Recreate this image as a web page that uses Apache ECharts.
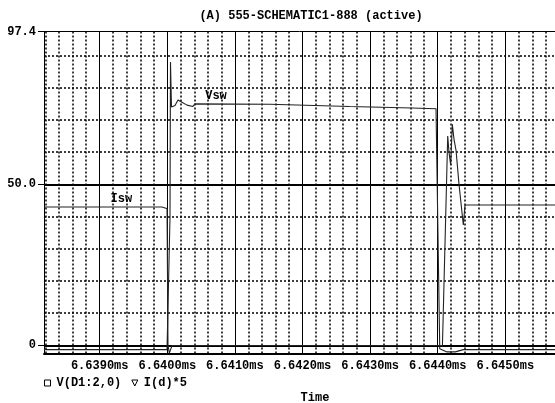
<!DOCTYPE html>
<html><head><meta charset="utf-8">
<script src="https://cdn.jsdelivr.net/npm/echarts@6/dist/echarts.min.js"></script>
<style>html,body{margin:0;padding:0;background:#fff}#c{width:555px;height:403px}</style>
</head><body><div id="c"></div>
<script>
// Axis definitions
var xMajorTicks = [6.6390, 6.6400, 6.6410, 6.6420, 6.6430, 6.6440, 6.6450];
var yLabelTicks = [0, 50, 97.4];
var yMajorGrid = [0, 50];
var yMinorGrid = [10, 20, 30, 40, 60, 70, 80, 90];
var XMIN = 6.638176, XMAX = 6.645735, YMIN = -2.5, YMAX = 97.4;

// Trace V(D1:2,0)  [time ms, value]
var vswTime = [6.638176, 6.639996, 6.640025, 6.640040, 6.640047, 6.640062, 6.640080, 6.640114, 6.640158, 6.640217, 6.640291, 6.640379, 6.640408, 6.641518, 6.642700, 6.643620, 6.643975, 6.643997, 6.644030, 6.644137, 6.644260, 6.644378, 6.645735];
var vswValue = [-1.3, -1.3, -1.0, 40, 88.0, 74.0, 74.0, 74.5, 76.2, 75.5, 74.6, 74.2, 75.0, 74.9, 74.2, 73.7, 73.5, 73.0, -1.0, -2.0, -2.0, -1.3, -1.3];

// Trace I(d)*5  [time ms, value]
var idTime = [6.638176, 6.639920, 6.639966, 6.639996, 6.640010, 6.640030, 6.640070, 6.643997, 6.644070, 6.644085, 6.644148, 6.644167, 6.644192, 6.644216, 6.644241, 6.644271, 6.644315, 6.644379, 6.644404, 6.645735];
var idValue = [43.0, 43.0, 42.7, 42.5, 0, -2.4, 0, 0, 0, 0, 65.0, 60.0, 56.0, 68.7, 64.0, 60.6, 50.0, 37.4, 43.6, 43.6];

var seriesNames = ['V(D1:2,0)', 'I(d)*5'];
var traceLabels = [{text: 'Vsw', t: 6.640720, v: 77.3}, {text: 'Isw', t: 6.639320, v: 45.5}];

function zip(a, b) { return a.map(function (x, i) { return [x, b[i]]; }); }

// minor x grid: every 0.0002 ms between the majors
var xMinorGrid = [];
for (var k = Math.ceil(XMIN / 0.0002); k * 0.0002 <= XMAX; k++) {
  var v = +(k * 0.0002).toFixed(5);
  if (Math.abs(v * 1000 - Math.round(v * 1000)) > 1e-6) xMinorGrid.push(v);
}

var FONT = 'Liberation Mono';
var FS = 12;
var gridLines = [];
xMajorTicks.forEach(function (v) { gridLines.push({xAxis: v, lineStyle: {type: 'solid', width: 1, color: '#000'}}); });
xMinorGrid.forEach(function (v) { gridLines.push({xAxis: v, lineStyle: {type: [2, 2], width: 1.5, color: '#000'}}); });
yMajorGrid.forEach(function (v) { gridLines.push({yAxis: v, lineStyle: {type: 'solid', width: 2, color: '#000'}}); });
yMinorGrid.forEach(function (v) { gridLines.push({yAxis: v, lineStyle: {type: [2, 2], width: 1.5, color: '#000'}}); });

var chart = echarts.init(document.getElementById('c'), null, {renderer: 'canvas'});
chart.setOption({
  animation: false,
  backgroundColor: '#fff',
  title: [
    {text: '(A) 555-SCHEMATIC1-888 (active)', left: 306, top: 5, textAlign: 'center',
     textStyle: {fontFamily: FONT, fontSize: FS, fontWeight: 'bold', color: '#000'}},
    {text: 'Time', left: 310, top: 387, textAlign: 'center',
     textStyle: {fontFamily: FONT, fontSize: FS, fontWeight: 'bold', color: '#000'}}
  ],
  legend: {
    left: 39, top: 372, itemWidth: 6, itemHeight: 6, itemGap: 10,
    textStyle: {fontFamily: FONT, fontSize: FS, fontWeight: 'bold', color: '#000', padding: [0, 0, 0, 1]},
    data: [
      {name: seriesNames[0], icon: 'rect', itemStyle: {color: '#fff', borderColor: '#000', borderWidth: 1}},
      {name: seriesNames[1], icon: 'path://M0,0 L10,0 L5,10 Z', itemStyle: {color: '#fff', borderColor: '#000', borderWidth: 1}}
    ]
  },
  grid: {left: 44, right: 0, top: 31.7, bottom: 49.5, show: false},
  xAxis: [{
    type: 'value', min: XMIN, max: XMAX,
    axisLine: {show: true, onZero: false, lineStyle: {color: '#000', width: 2}},
    axisTick: {show: false},
    splitLine: {show: false},
    axisLabel: {customValues: xMajorTicks, margin: 6, fontFamily: FONT, fontSize: FS, fontWeight: 'bold', color: '#000',
      formatter: function (v) { return v.toFixed(4) + 'ms'; }}
  }, {
    type: 'value', min: XMIN, max: XMAX, position: 'top',
    axisLine: {show: true, onZero: false, lineStyle: {color: '#000', width: 1}},
    axisTick: {show: false}, splitLine: {show: false}, axisLabel: {show: false}
  }],
  yAxis: {
    type: 'value', min: YMIN, max: YMAX,
    axisLine: {show: true, lineStyle: {color: '#000', width: 1}},
    axisTick: {show: true, customValues: yLabelTicks, length: 6, lineStyle: {color: '#000'}},
    splitLine: {show: false},
    axisLabel: {customValues: yLabelTicks, margin: 8, fontFamily: FONT, fontSize: FS, fontWeight: 'bold', color: '#000',
      formatter: function (v) { return v === 0 ? '0' : v.toFixed(1); }}
  },
  series: [
    {type: 'line', name: '_grid', data: [], silent: true, z: 1,
     markLine: {silent: true, precision: 6, symbol: ['none', 'none'], label: {show: false}, animation: false, data: gridLines}},
    {type: 'line', name: seriesNames[0], data: zip(vswTime, vswValue), showSymbol: false, z: 5,
     lineStyle: {color: '#222', width: 1.1}, itemStyle: {color: '#222'},
     markPoint: {symbol: 'circle', symbolSize: 0, silent: true,
       label: {show: true, position: 'inside', fontFamily: FONT, fontSize: FS, fontWeight: 'bold', color: '#000', formatter: '{b}'},
       data: [{name: traceLabels[0].text, coord: [traceLabels[0].t, traceLabels[0].v]}]}},
    {type: 'line', name: seriesNames[1], data: zip(idTime, idValue), showSymbol: false, z: 5,
     lineStyle: {color: '#222', width: 1.1}, itemStyle: {color: '#222'},
     markPoint: {symbol: 'circle', symbolSize: 0, silent: true,
       label: {show: true, position: 'inside', fontFamily: FONT, fontSize: FS, fontWeight: 'bold', color: '#000', formatter: '{b}'},
       data: [{name: traceLabels[1].text, coord: [traceLabels[1].t, traceLabels[1].v]}]}}
  ]
});
</script></body></html>
